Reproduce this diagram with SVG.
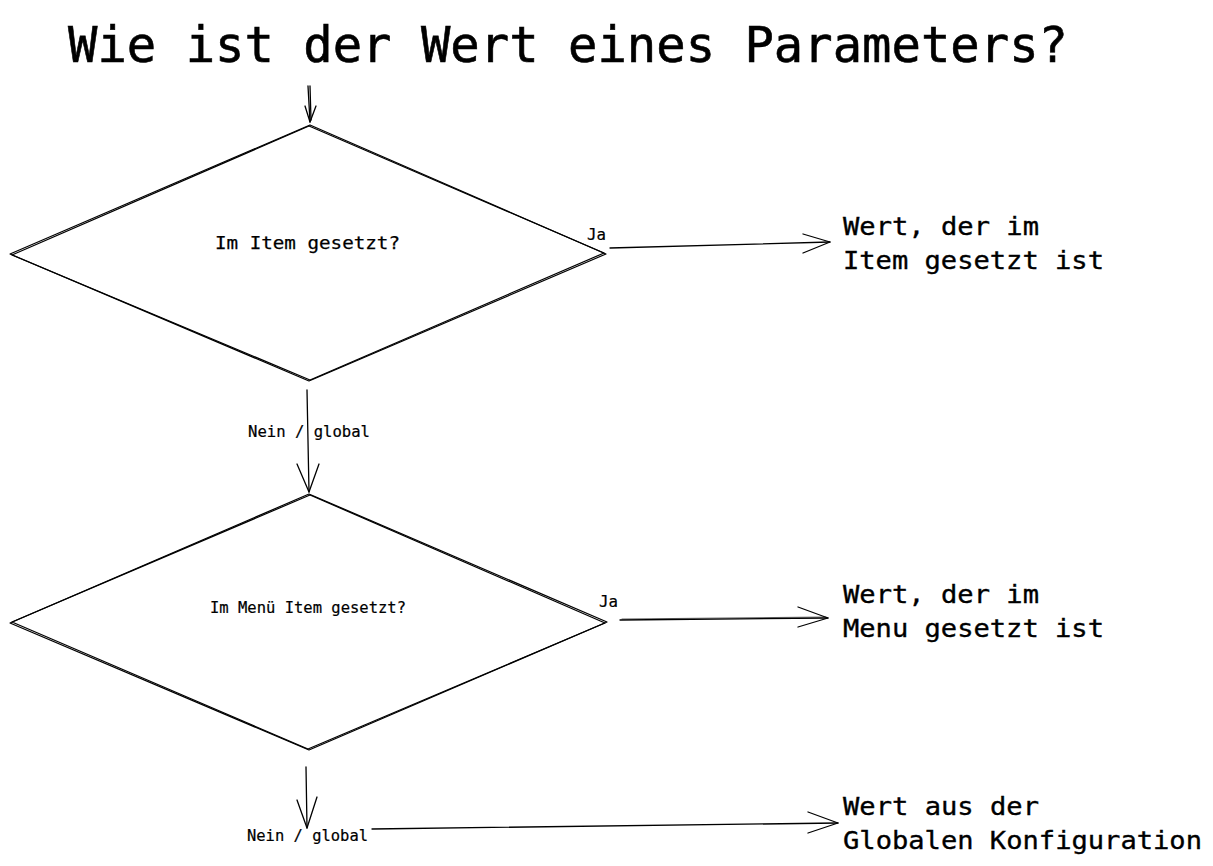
<svg xmlns="http://www.w3.org/2000/svg" width="1213" height="866" viewBox="0 0 1213 866">
<style>
text{font-family:"DejaVu Sans Mono","Liberation Mono",monospace;fill:#000;stroke:#000;stroke-width:0.35}
.shape{fill:none;stroke:#000;stroke-width:1.2;stroke-linejoin:round}
.con line,.con polyline{fill:none;stroke:#000;stroke-width:1.3;stroke-linecap:round;stroke-linejoin:round}
.title{font-size:49px;stroke-width:0.6}
.res{font-size:25px}
.lbl{font-size:15px;stroke-width:0.2}
</style>
<rect width="1213" height="866" fill="#fff"/>
<text class="title" x="68" y="62" textLength="1000" lengthAdjust="spacingAndGlyphs">Wie ist der Wert eines Parameters?</text>

<g id="d1">
<polygon class="shape" points="310,125 606,254 309,381 10,254"/>
<polyline class="shape" points="309,126 604,253 310,380 12,255 309,126" stroke-width="0.6"/>
<text x="215" y="249" style="font-size:17.5px;stroke-width:0.25" textLength="185" lengthAdjust="spacingAndGlyphs">Im Item gesetzt?</text>
</g>

<g id="d2">
<polygon class="shape" points="309,494 607,622 309,750 10,623"/>
<polyline class="shape" points="310,495 605,623 308,749 12,622 310,495" stroke-width="0.6"/>
<text x="210" y="613" style="font-size:15px;stroke-width:0.2" textLength="196" lengthAdjust="spacingAndGlyphs">Im Menü Item gesetzt?</text>
</g>

<g id="r1">
<text class="res" x="843" y="235" textLength="196" lengthAdjust="spacingAndGlyphs">Wert, der im</text>
<text class="res" x="843" y="269" textLength="261" lengthAdjust="spacingAndGlyphs">Item gesetzt ist</text>
</g>
<g id="r2">
<text class="res" x="843" y="603" textLength="196" lengthAdjust="spacingAndGlyphs">Wert, der im</text>
<text class="res" x="843" y="637" textLength="261" lengthAdjust="spacingAndGlyphs">Menu gesetzt ist</text>
</g>
<g id="r3">
<text class="res" x="843" y="815" textLength="196" lengthAdjust="spacingAndGlyphs">Wert aus der</text>
<text class="res" x="843" y="849" textLength="359" lengthAdjust="spacingAndGlyphs">Globalen Konfiguration</text>
</g>

<g id="connectors" class="con">
<line x1="308" y1="86" x2="310" y2="122"/>
<line x1="310" y1="86" x2="311" y2="120"/>
<polyline points="305,106 310,122 316,106"/>

<line x1="610" y1="248" x2="830" y2="242"/>
<polyline points="803,234 830,242 803,253"/>

<line x1="307" y1="390" x2="309" y2="492"/>
<polyline points="297,464 309,492 319,464"/>

<line x1="620" y1="620" x2="828" y2="618"/>
<line x1="622" y1="619" x2="826" y2="617" style="stroke-width:0.6"/>
<polyline points="798,607 828,618 798,627"/>

<line x1="306" y1="767" x2="307" y2="828"/>
<polyline points="297,800 307,828 317,797"/>

<line x1="372" y1="829" x2="838" y2="823"/>
<polyline points="808,812 838,823 808,833"/>
</g>

<g id="labels">
<text class="lbl" x="587" y="240" textLength="19" lengthAdjust="spacingAndGlyphs">Ja</text>
<text class="lbl" x="599" y="607" textLength="19" lengthAdjust="spacingAndGlyphs">Ja</text>
<text class="lbl" x="248" y="437" textLength="122" lengthAdjust="spacingAndGlyphs">Nein / global</text>
<text class="lbl" x="247" y="841" textLength="121" lengthAdjust="spacingAndGlyphs">Nein / global</text>
</g>
</svg>
